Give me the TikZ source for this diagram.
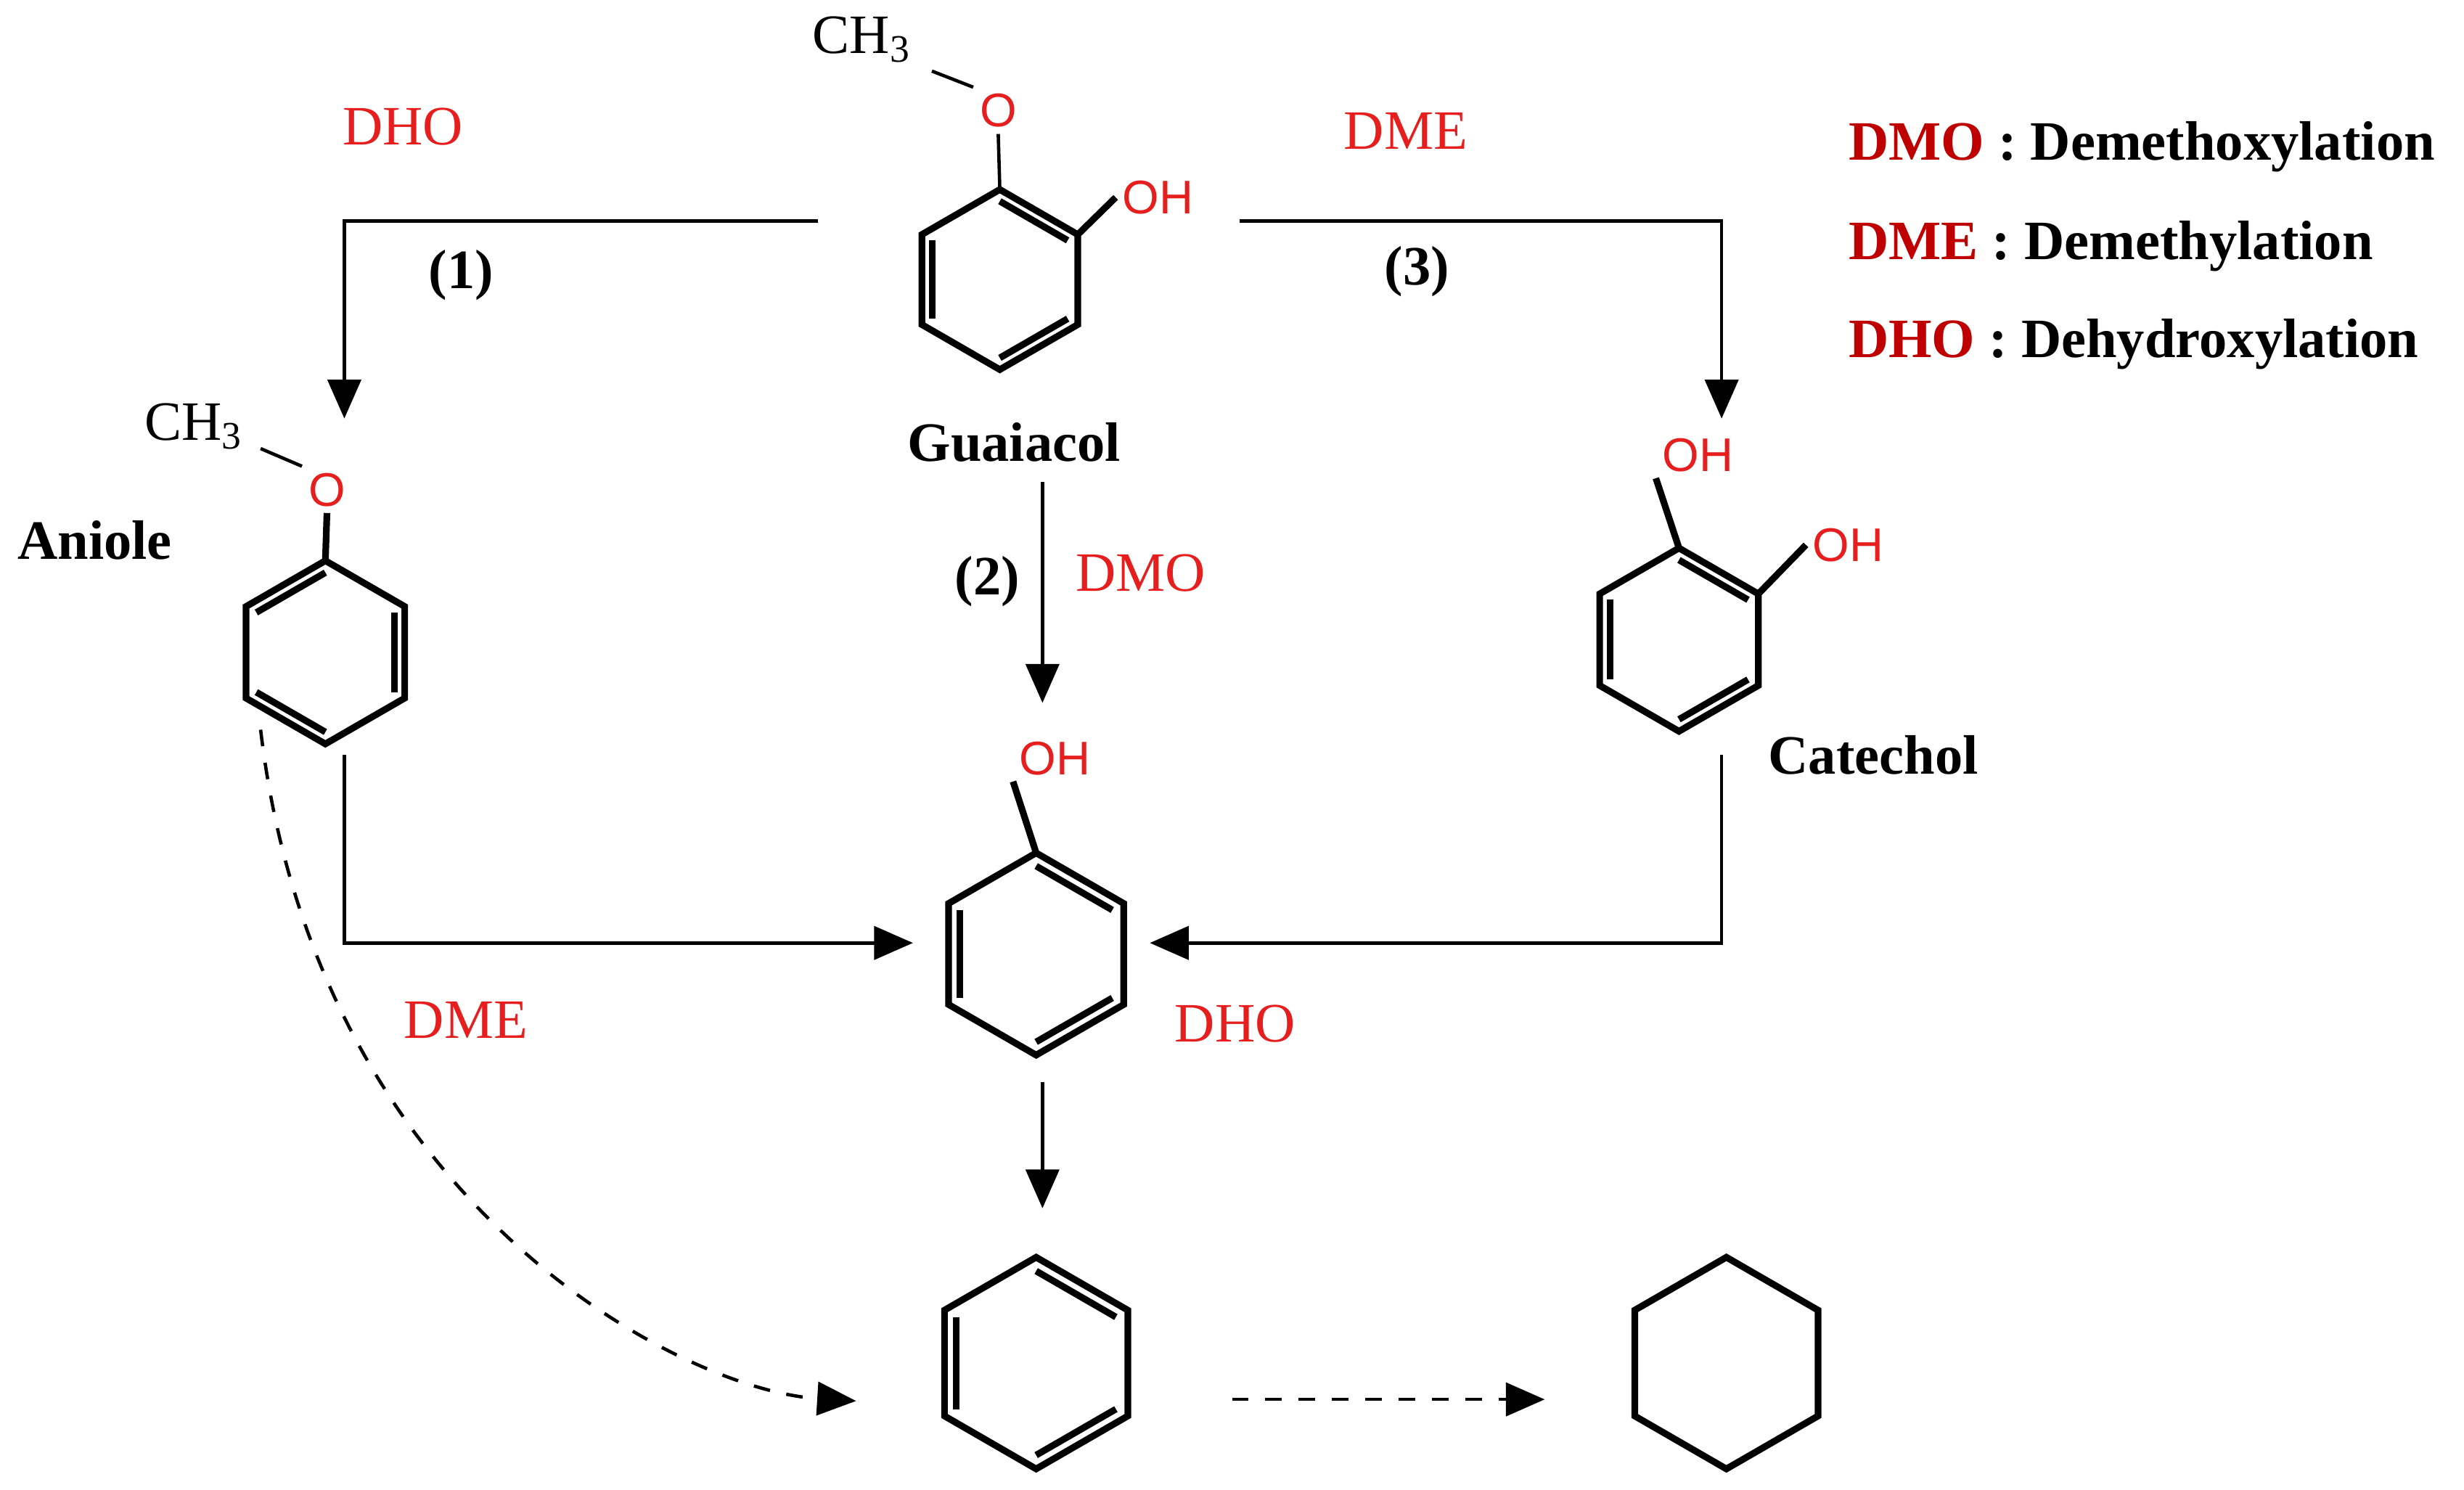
\documentclass[tikz,border=0pt]{standalone}
\usepackage{fontspec}
\setmainfont{Liberation Serif}
\newfontfamily\sansf{Liberation Sans}
\usetikzlibrary{calc,arrows.meta}
\definecolor{rd}{RGB}{230,30,30}
\definecolor{dr}{RGB}{190,0,0}
\newcommand\hexring[4]{% name, center, radius, double edges
  \foreach \k in {0,...,5}{\coordinate (#1\k) at ($(#2)+({-90+60*\k}:#3)$);}
  \draw[bond] (#10)--(#11)--(#12)--(#13)--(#14)--(#15)--cycle;
  \foreach \e in {#4}{\pgfmathtruncatemacro\nx{mod(\e+1,6)}
    \draw[bond] ($(#2)!0.87!(#1\e)$)--($(#2)!0.87!(#1\nx)$);}
}
\begin{document}
\begin{tikzpicture}[x=0.01cm,y=-0.01cm,
  bond/.style={line width=1.2pt,line join=miter},
  arr/.style={line width=0.6pt,-{Triangle[length=7pt,width=6pt]}},
  red/.style={text=rd,font=\fontsize{10}{12}\selectfont},
  blk/.style={font=\bfseries\fontsize{10}{12}\selectfont},
  oh/.style={text=rd,font=\sansf\fontsize{8.5}{10}\selectfont,inner sep=1pt}]
\useasboundingbox (0,0) rectangle (1560,943);
% Guaiacol
\hexring{g}{633,177}{57}{0,2,4}
\node[oh] (go) at (632,70) {O};
\node[oh] (goh) at (733,125) {OH};
\node[font=\fontsize{10}{12}\selectfont,inner sep=1pt] (gc) at (546,25) {CH\textsubscript{3}};
\draw[line width=0.6pt] (g0)--(go.south);
\draw[line width=0.6pt] (go.north west)--(590,45);
\draw[bond] (g1)--(goh.west);
\node[blk] (gl) at (642,280) {Guaiacol};
% Anisole
\hexring{a}{206,413}{58}{1,3,5}
\node[oh] (ao) at (207,310) {O};
\node[font=\fontsize{10}{12}\selectfont,inner sep=1pt] (ac) at (123,270) {CH\textsubscript{3}};
\draw[bond] (a0)--(ao.south);
\draw[line width=0.6pt] (ao.north west)--(165,284);
\node[blk] (al) at (60,342) {Aniole};
% Catechol
\hexring{c}{1063,405}{58}{0,2,4}
\node[oh] (coh1) at (1075,288) {OH};
\node[oh] (coh2) at (1170,345) {OH};
\draw[bond] (c0)--(coh1.south west);
\draw[bond] (c1)--(coh2.west);
\node[blk] (cl) at (1186,478) {Catechol};
% Phenol
\hexring{p}{656,604}{64}{0,2,4}
\node[oh] (poh) at (668,480) {OH};
\draw[bond] (p0)--(poh.south west);
% Benzene and cyclohexane
\hexring{b}{656,863}{67}{0,2,4}
\hexring{h}{1093,863}{67}{}
% arrows
\coordinate (s1) at (518,140); \coordinate (t1) at (218,265);
\draw[arr] (s1)--(218,140)--(t1);
\coordinate (s3) at (785,140); \coordinate (t3) at (1090,265);
\draw[arr] (s3)--(1090,140)--(t3);
\coordinate (s2) at (660,305); \coordinate (t2) at (660,445);
\draw[arr] (s2)--(t2);
\coordinate (s4) at (218,478); \coordinate (t4) at (578,597);
\draw[arr] (s4)--(218,597)--(t4);
\coordinate (s5) at (1090,478); \coordinate (t5) at (728,597);
\draw[arr] (s5)--(1090,597)--(t5);
\coordinate (s6) at (660,685); \coordinate (t6) at (660,765);
\draw[arr] (s6)--(t6);
\coordinate (s7) at (165,462); \coordinate (t7) at (542,887);
\draw[arr,dashed] (s7) .. controls (200,760) and (430,880) .. (t7);
\coordinate (s8) at (780,886); \coordinate (t8) at (978,886);
\draw[arr,dashed] (s8)--(t8);
% labels
\node[red] (l1) at (255,80) {DHO};
\node[blk] (n1) at (292,174) {(1)};
\node[red] (l3) at (890,83) {DME};
\node[blk] (n3) at (897,172) {(3)};
\node[blk] (n2) at (625,368) {(2)};
\node[red] (l2) at (722,363) {DMO};
\node[red] (l4) at (295,646) {DME};
\node[red] (l5) at (782,648) {DHO};
% legend
\node[anchor=west,font=\bfseries\fontsize{10}{12}\selectfont] (k1) at (1158,93) {\textcolor{dr}{DMO} : Demethoxylation};
\node[anchor=west,font=\bfseries\fontsize{10}{12}\selectfont] (k2) at (1158,156) {\textcolor{dr}{DME} : Demethylation};
\node[anchor=west,font=\bfseries\fontsize{10}{12}\selectfont] (k3) at (1158,218) {\textcolor{dr}{DHO} : Dehydroxylation};
\end{tikzpicture}
\end{document}
